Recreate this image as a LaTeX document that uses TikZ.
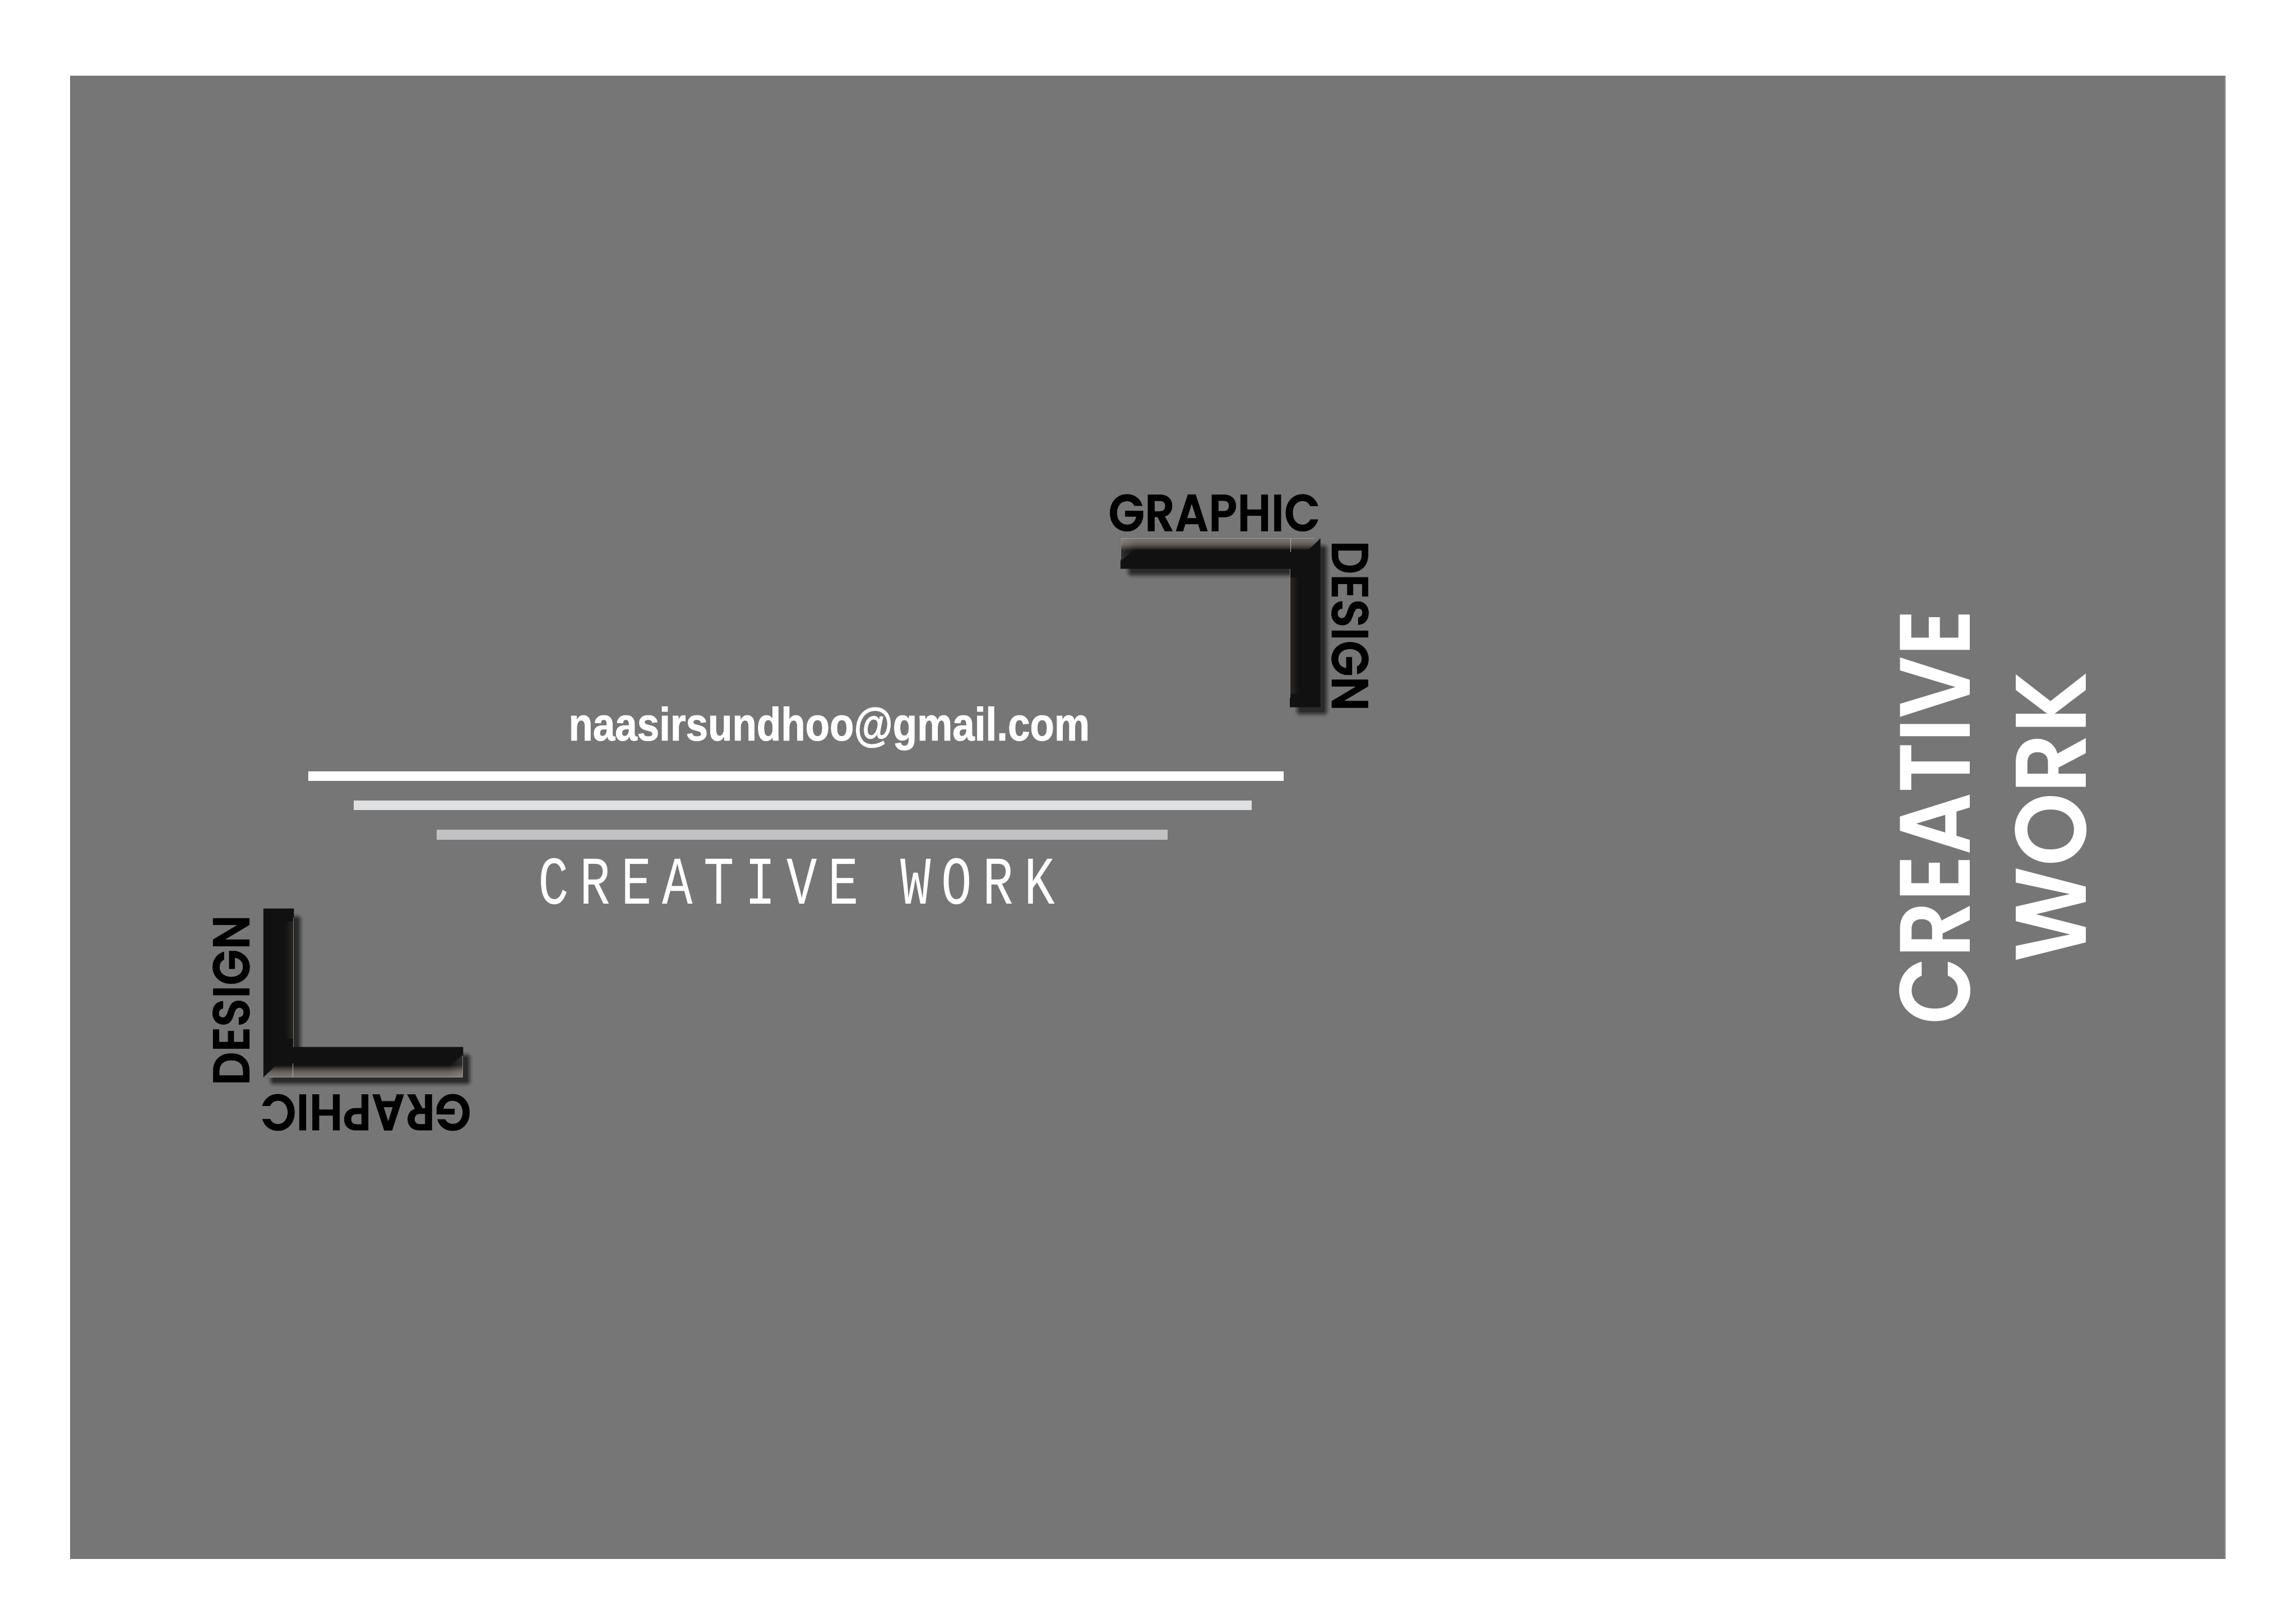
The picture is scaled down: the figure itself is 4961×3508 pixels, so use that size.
\documentclass[tikz,border=0pt]{standalone}
\usepackage{graphicx}
\usepackage{fontspec}
\newfontfamily\futura{Poppins SemiBold}
\newfontfamily\futurab{Poppins SemiBold}[FakeBold=0.6]
\newfontfamily\helv{Liberation Sans Bold}[FakeBold=1.2]
\newfontfamily\monof{Liberation Mono}[FakeStretch=0.7,LetterSpace=15]
\definecolor{panelgray}{HTML}{767676}
\definecolor{barblack}{HTML}{111111}
\definecolor{bevelT}{HTML}{78726E}
\definecolor{bevelB}{HTML}{171413}
\definecolor{innerA}{HTML}{2B2623}
\definecolor{shadowc}{HTML}{222222}
\definecolor{shadowcore}{HTML}{2B2B2B}
\definecolor{rulea}{HTML}{FFFFFF}
\definecolor{ruleb}{HTML}{DFE0E2}
\definecolor{rulec}{HTML}{C1C2C4}
\tikzset{
  txt/.style={inner sep=0pt,outer sep=0pt,text=#1},
  rulebar/.style={fill=#1},
}
\newcommand{\shadowL}[1]{%
  \foreach \r/\a in {30/.05,27/.07,24/.09,21/.12,18/.16,15/.2,12/.25,9/.3,6/.35,3/.4}{%
    \draw[shadowc,opacity=\a,line width=\r*0.1pt,line join=round] #1 -- cycle;}
  \fill[shadowcore] #1 -- cycle;}
\newcommand{\bodyL}{%
  \fill[barblack] (0,0) -- (432,0) -- (432,66) -- (66,66) -- (66,365) -- (0,365) -- cycle;
  \begin{scope}
    \clip (0,0) -- (26,25) -- (403,25) -- (432,50) -- (432,0) -- cycle;
    \foreach \i in {0,...,25}{%
      \pgfmathtruncatemacro\p{100-\i*\i*0.16}%
      \fill[bevelT!\p!bevelB] (0,\i) rectangle (432,\i+1.4);}
    \foreach \i in {2,6,...,30}{%
      \fill[white,opacity=.02] (432-\i,0) rectangle (432,50);}
  \end{scope}
  \foreach \i in {0,...,18}{%
    \pgfmathtruncatemacro\p{100-\i*5}%
    \fill[innerA!\p!barblack] (66-\i,84) rectangle (66-\i-1.4,337);}
  \draw[black!30!white!60!gray,line width=0.15pt] (12,0.8) -- (432,0.8);
  \draw[gray!90!white,line width=0.15pt] (431.2,0) -- (431.2,46);
  \draw[gray!60!white,line width=0.15pt] (64,0) -- (64,30);
  \draw[gray,line width=0.1pt] (65.5,66) -- (65.5,345);
}
\begin{document}
\begin{tikzpicture}[x=0.1pt,y=-0.1pt]
  \useasboundingbox (0,0) rectangle (4961,3508);
  \fill[white] (0,0) rectangle (4961,3508);
  \fill[panelgray] (152,164) rectangle (4809,3368);
  \draw[gray!70!white,line width=0.2pt] (4808,164) -- (4808,3368);

  % upper L
  \shadowL{(2446,1187) -- (2859,1187) -- (2859,1535) -- (2811,1535) -- (2811,1235) -- (2446,1235)}
  \begin{scope}[shift={(2853,1163)},xscale=-1]\bodyL\end{scope}
  % lower L
  \shadowL{(593,1988) -- (641,1988) -- (641,2287) -- (1007,2287) -- (1007,2334) -- (593,2334)}
  \begin{scope}[shift={(569,2328)},yscale=-1]\bodyL\end{scope}

  % labels of the two corners
  \node[txt=black] (graphicA) at (2624,1108) {\resizebox*{45.8pt}{8.0pt}{\futurab GRAPHIC}};
  \node[txt=black,rotate=-90] (designA) at (2917,1352) {\resizebox*{36.8pt}{8.0pt}{\futurab DESIGN}};
  \node[txt=black,rotate=90] (designB) at (499.5,2161) {\resizebox*{36.8pt}{8.0pt}{\futurab DESIGN}};
  \node[txt=black,rotate=180] (graphicB) at (790,2403.5) {\resizebox*{45.6pt}{7.9pt}{\futurab GRAPHIC}};

  % centre block
  \node[txt=white] (mail) at (1791.5,1574) {\resizebox*{112.6pt}{9.4pt}{\helv naasirsundhoo@gmail.com}};
  \fill[rulebar=rulea] (666,1666) rectangle (2774,1687);
  \fill[rulebar=ruleb] (764.5,1729) rectangle (2704,1750);
  \fill[rulebar=rulec] (944,1793) rectangle (2523,1814);
  \node[txt=white] (subtitle) at (1721.5,1905) {\resizebox*{111.7pt}{10.0pt}{\monof CREATIVE WORK}};

  % right block
  \node[txt=white,rotate=90] (creative) at (4181,1766) {\resizebox*{89.6pt}{15.4pt}{\futura CREATIVE}};
  \node[txt=white,rotate=90] (work) at (4431.5,1765) {\resizebox*{62.8pt}{15.5pt}{\futura WORK}};
\end{tikzpicture}
\end{document}
